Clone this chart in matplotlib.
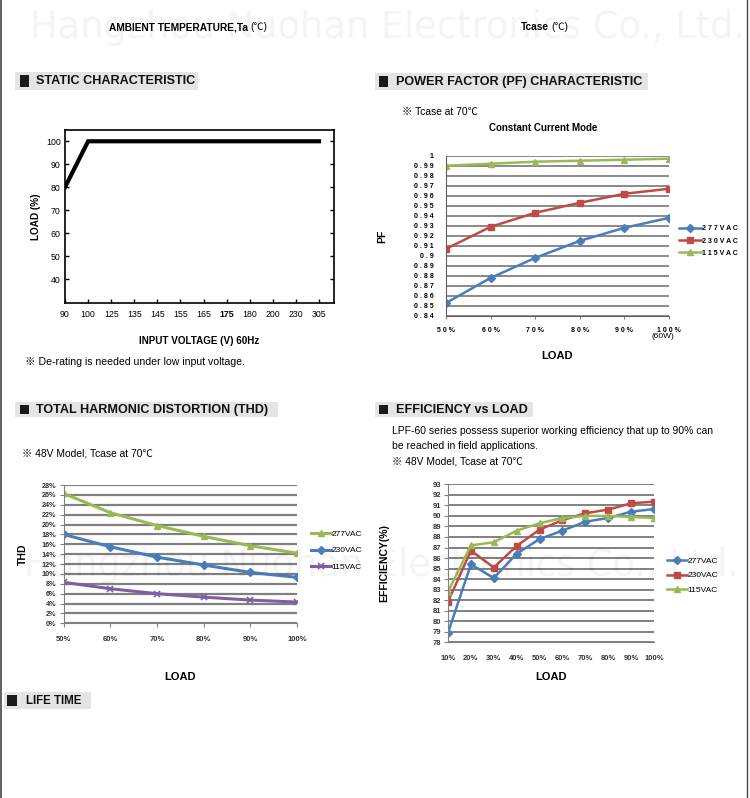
import matplotlib
matplotlib.use('Agg')
import matplotlib.pyplot as plt
from matplotlib import font_manager
from matplotlib.patches import Rectangle
from matplotlib.lines import Line2D

# ---------------------------------------------------------------
# Daten
# ---------------------------------------------------------------
static_voltage = ['90', '100', '125', '135', '145', '155', '165', '175', '180', '200', '230', '305']
static_load = [80, 100, 100, 100, 100, 100, 100, 100, 100, 100, 100, 100]
static_yticks = [40, 50, 60, 70, 80, 90, 100]

pf_load = ['50%', '60%', '70%', '80%', '90%', '100%']
pf_277 = [0.853, 0.878, 0.898, 0.915, 0.928, 0.938]
pf_230 = [0.907, 0.929, 0.943, 0.953, 0.962, 0.967]
pf_115 = [0.990, 0.992, 0.994, 0.995, 0.996, 0.997]
pf_yticks = [0.84, 0.85, 0.86, 0.87, 0.88, 0.89, 0.90, 0.91, 0.92, 0.93,
             0.94, 0.95, 0.96, 0.97, 0.98, 0.99, 1.00]

thd_load = ['50%', '60%', '70%', '80%', '90%', '100%']
thd_277 = [26.3, 22.4, 19.8, 17.6, 15.7, 14.2]
thd_230 = [18.0, 15.5, 13.4, 11.8, 10.3, 9.3]
thd_115 = [8.3, 7.0, 6.0, 5.3, 4.7, 4.3]
thd_yticks = list(range(0, 29, 2))

eff_load = ['10%', '20%', '30%', '40%', '50%', '60%', '70%', '80%', '90%', '100%']
eff_277 = [78.9, 85.4, 84.1, 86.4, 87.8, 88.6, 89.45, 89.8, 90.4, 90.65]
eff_230 = [81.85, 86.7, 85.1, 87.15, 88.7, 89.6, 90.25, 90.6, 91.2, 91.35]
eff_115 = [82.8, 87.2, 87.5, 88.6, 89.3, 89.8, 90.0, 90.0, 89.9, 89.8]
eff_yticks = list(range(78, 94))

# ---------------------------------------------------------------
# Stil
# ---------------------------------------------------------------
W, H = 750, 798
BLUE = '#4a7ebb'
RED = '#be4b48'
GREEN = '#98b954'
PURPLE = '#7d60a0'
GRID = '#808080'

installed = {f.name for f in font_manager.fontManager.ttflist}
NARROW = 'Liberation Sans Narrow' if 'Liberation Sans Narrow' in installed else 'Liberation Sans'
FN = [NARROW, 'Noto Sans CJK SC', 'DejaVu Sans']
plt.rcParams['font.family'] = FN


def fx(x):
    return x / W


def fy(y):
    return 1 - y / H


def px_axes(fig, left, top, right, bottom):
    return fig.add_axes([fx(left), fy(bottom), (right - left) / W, (bottom - top) / H])


def header(fig, x0, y0, x1, y1, sq0, sq1, tx, text, size=9.1):
    fig.patches.append(Rectangle((fx(x0), fy(y1)), (x1 - x0) / W, (y1 - y0) / H,
                                 transform=fig.transFigure, facecolor='#e4e4e4',
                                 edgecolor='none', zorder=1))
    fig.patches.append(Rectangle((fx(sq0), fy(y1 - 3)), (sq1 - sq0) / W, (y1 - y0 - 6) / H,
                                 transform=fig.transFigure, facecolor='#1a1a1a',
                                 edgecolor='none', zorder=2))
    fig.text(fx(tx), fy((y0 + y1) / 2 + 0.5), text, fontsize=size,
             fontweight='bold', va='center', ha='left', color='#111111', zorder=3)


def bold_then_regular(fig, x, y, bold, regular, size):
    t = fig.text(fx(x), fy(y), bold, fontsize=size, fontweight='bold', ha='left', va='center')
    plt.annotate(regular, xy=(1, 0.5), xycoords=t, xytext=(2, 0), textcoords='offset points',
                 fontsize=size, ha='left', va='center', annotation_clip=False)


def spaced(s):
    return ' '.join(s)


fig = plt.figure(figsize=(W / 100, H / 100), dpi=100)
fig.patch.set_facecolor('white')

# Rahmenlinien links / rechts
fig.add_artist(Line2D([fx(1), fx(1)], [0, 1], color='#444444', lw=1.2))
fig.add_artist(Line2D([fx(746.5), fx(746.5)], [0, 1], color='#444444', lw=1.0))

# Wasserzeichen
for wx, wy in ((388, 27), (382, 565)):
    fig.text(fx(wx), fy(wy), 'Hangzhou Nuohan Electronics Co., Ltd.', family='DejaVu Sans',
             fontsize=26.5, color='#000000', alpha=0.045, ha='center', va='center', zorder=20)

# ---------------------------------------------------------------
# STATIC CHARACTERISTIC
# ---------------------------------------------------------------
header(fig, 15, 72, 198, 90, 20, 29, 36, 'STATIC CHARACTERISTIC')
ax = px_axes(fig, 65, 130, 334, 303)
x = list(range(len(static_voltage)))
ax.plot(x, static_load, color='black', lw=3, solid_joinstyle='miter')
ax.set_xlim(0, 11.65)
ax.set_ylim(29.7, 104.9)
ax.set_xticks(x)
ax.set_xticklabels(static_voltage, fontsize=6.3)
for lab in ax.get_xticklabels():
    if lab.get_text() == '175':
        lab.set_fontweight('bold')
ax.set_yticks(static_yticks)
ax.set_yticklabels([str(v) for v in static_yticks], fontsize=6.3)
ax.tick_params(direction='in', length=3, width=1, right=True, top=False, pad=3)
ax.tick_params(axis='x', pad=5)
for sp in ax.spines.values():
    sp.set_linewidth(1.2)
ax.set_ylabel('LOAD (%)', fontsize=7.2, fontweight='bold', labelpad=4)
ax.set_xlabel('INPUT VOLTAGE (V) 60Hz', fontsize=7.1, fontweight='bold', labelpad=12)
fig.text(fx(25), fy(362), '※ De-rating is needed under low input voltage.',
         fontsize=7.6, ha='left', va='center')

# ---------------------------------------------------------------
# POWER FACTOR
# ---------------------------------------------------------------
header(fig, 375, 73, 648, 90, 379, 388, 396, 'POWER FACTOR (PF) CHARACTERISTIC')
fig.text(fx(402), fy(112), '※ Tcase at 70℃', fontsize=7.4, ha='left', va='center')
fig.text(fx(543), fy(128), 'Constant Current Mode', fontsize=7.0,
         fontweight='bold', ha='center', va='center')
ax = px_axes(fig, 446, 155.7, 669, 316)
x = list(range(len(pf_load)))
ax.plot(x, pf_277, color=BLUE, lw=1.8, marker='D', ms=4, label=spaced('277VAC'))
ax.plot(x, pf_230, color=RED, lw=1.8, marker='s', ms=5, label=spaced('230VAC'))
ax.plot(x, pf_115, color=GREEN, lw=1.8, marker='^', ms=5, label=spaced('115VAC'))
ax.set_xlim(0, 5)
ax.set_ylim(0.84, 1.0)
ax.set_yticks(pf_yticks)
ax.set_yticklabels([spaced(f'{v:.2f}'.rstrip('0').rstrip('.')) for v in pf_yticks],
                   fontsize=5, fontweight='bold')
ax.set_xticks(x)
ax.set_xticklabels([spaced(s) for s in pf_load], fontsize=5, fontweight='bold')
ax.yaxis.grid(True, color=GRID, lw=1.3)
ax.set_axisbelow(True)
ax.tick_params(axis='y', length=0, pad=9)
ax.tick_params(axis='x', length=2, color=GRID, pad=6)
for side in ('top', 'right'):
    ax.spines[side].set_visible(False)
ax.spines['left'].set_color('#606060')
ax.spines['bottom'].set_color('#606060')
ax.set_xlabel('LOAD', fontsize=8, fontweight='bold', labelpad=12)
ax.set_ylabel('PF', fontsize=7.5, fontweight='bold', labelpad=19)
fig.text(fx(663), fy(337), '(60W)', fontsize=6, ha='center', va='center')
ax.legend(loc='center left', bbox_to_anchor=(fx(679), fy(241)), bbox_transform=fig.transFigure,
          frameon=False, prop={'weight': 'bold', 'size': 5},
          handlelength=3.2, handletextpad=0.1, labelspacing=0.75, borderpad=0, borderaxespad=0)

# ---------------------------------------------------------------
# THD
# ---------------------------------------------------------------
header(fig, 15, 402, 278, 417, 20, 29, 36, 'TOTAL HARMONIC DISTORTION (THD)')
fig.text(fx(22), fy(453), '※ 48V Model, Tcase at 70℃', fontsize=7.4,
         ha='left', va='center')
ax = px_axes(fig, 63.5, 485, 297, 623.3)
x = list(range(len(thd_load)))
ax.plot(x, thd_277, color=GREEN, lw=2.2, marker='^', ms=5, label='277VAC')
ax.plot(x, thd_230, color=BLUE, lw=2.2, marker='D', ms=4, label='230VAC')
ax.plot(x, thd_115, color=PURPLE, lw=2.2, marker='x', ms=5, mew=1.2, label='115VAC')
ax.set_xlim(0, 5)
ax.set_ylim(0, 28)
ax.set_yticks(thd_yticks)
ax.set_yticklabels([f'{v}%' for v in thd_yticks], fontsize=5.2,
                   fontweight='bold', color='#333333')
ax.set_xticks(x)
ax.set_xticklabels(thd_load, fontsize=5.5, fontweight='bold', color='#333333')
ax.yaxis.grid(True, color=GRID, lw=1.6)
ax.set_axisbelow(True)
ax.tick_params(axis='both', length=3, color=GRID, pad=2)
ax.tick_params(axis='x', pad=6)
for side in ('top', 'right'):
    ax.spines[side].set_visible(False)
ax.spines['left'].set_color(GRID)
ax.spines['bottom'].set_color(GRID)
ax.set_xlabel('LOAD', fontsize=8, fontweight='bold', labelpad=21)
ax.set_ylabel('THD', fontsize=7.5, fontweight='bold', labelpad=10)
ax.legend(loc='center left', bbox_to_anchor=(fx(311), fy(550.5)), bbox_transform=fig.transFigure,
          frameon=False, prop={'size': 6},
          handlelength=2.4, handletextpad=0.1, labelspacing=1.05, borderpad=0, borderaxespad=0)

# ---------------------------------------------------------------
# EFFICIENCY
# ---------------------------------------------------------------
header(fig, 375, 402, 533, 417, 379, 388, 396, 'EFFICIENCY vs LOAD')
fig.text(fx(392), fy(431), 'LPF-60 series possess superior working efficiency that up to 90% can',
         fontsize=7.5, ha='left', va='center')
fig.text(fx(392), fy(446), 'be reached in field applications.', fontsize=7.5,
         ha='left', va='center')
fig.text(fx(392), fy(462), '※ 48V Model, Tcase at 70℃', fontsize=7.4,
         ha='left', va='center')
ax = px_axes(fig, 448, 484.3, 654, 642.3)
x = list(range(len(eff_load)))
ax.plot(x, eff_277, color=BLUE, lw=1.8, marker='D', ms=4, label='277VAC')
ax.plot(x, eff_230, color=RED, lw=1.8, marker='s', ms=5, label='230VAC')
ax.plot(x, eff_115, color=GREEN, lw=1.8, marker='^', ms=5, label='115VAC')
ax.set_xlim(0, 9)
ax.set_ylim(78, 93)
ax.set_yticks(eff_yticks)
ax.set_yticklabels([str(v) for v in eff_yticks], fontsize=5.5,
                   fontweight='bold', color='#333333')
ax.set_xticks(x)
ax.set_xticklabels(eff_load, fontsize=5.5, fontweight='bold', color='#333333')
ax.yaxis.grid(True, color=GRID, lw=1.4)
ax.set_axisbelow(True)
ax.tick_params(axis='y', length=3, color=GRID, pad=2)
ax.tick_params(axis='x', length=0, pad=9)
for side in ('top', 'right'):
    ax.spines[side].set_visible(False)
ax.spines['left'].set_color(GRID)
ax.spines['bottom'].set_color(GRID)
ax.set_xlabel('LOAD', fontsize=8, fontweight='bold', labelpad=7)
ax.set_ylabel('EFFICIENCY(%)', fontsize=7.5, fontweight='bold', labelpad=31)
ax.legend(loc='center left', bbox_to_anchor=(fx(667), fy(575.5)), bbox_transform=fig.transFigure,
          frameon=False, prop={'size': 6},
          handlelength=2.4, handletextpad=0.1, labelspacing=0.8, borderpad=0, borderaxespad=0)

# ---------------------------------------------------------------
# LIFE TIME
# ---------------------------------------------------------------
header(fig, 4, 692, 91, 709, 7, 17, 26, 'LIFE TIME', size=8.3)

# Reste der oberen Grafik
bold_then_regular(fig, 109, 27, 'AMBIENT TEMPERATURE,Ta', '(℃)', 7.3)
bold_then_regular(fig, 521, 27, 'Tcase', '(℃)', 7.3)

fig.savefig('out.png', dpi=100, facecolor='white')
